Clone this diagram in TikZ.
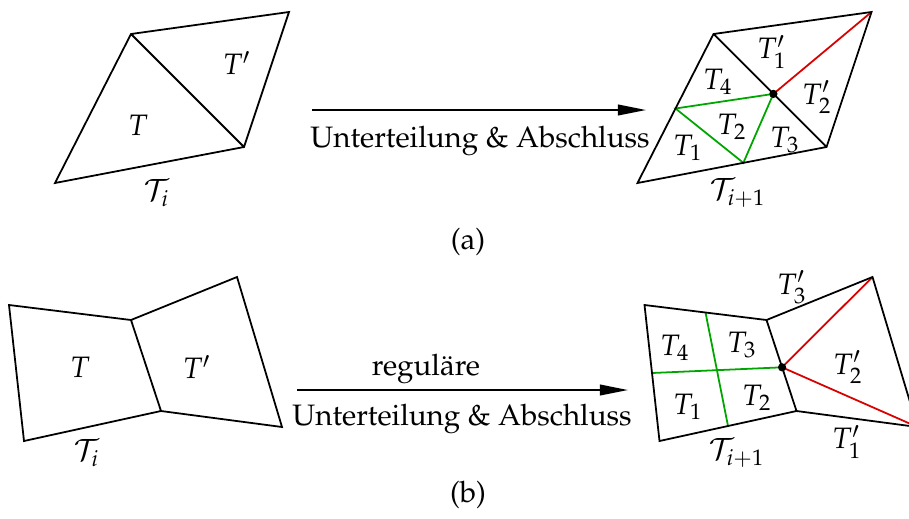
\documentclass[tikz,border=0pt]{standalone}
\usepackage[T1]{fontenc}
\usepackage{mathpazo}
\usetikzlibrary{arrows.meta,calc}

\begin{document}
\begin{tikzpicture}[x=0.0119cm, y=-0.0119cm, line width=0.6pt,
    every node/.style={inner sep=0pt},
    gruen/.style={green!65!black}, rot/.style={red!85!black},
    pfeil/.style={-{Triangle[length=9.5pt,width=3.6pt]}}]
    \useasboundingbox (0,0) rectangle (909,518);
    \clip (0,0) rectangle (909,518);

    % (a) Ausgangsnetz aus zwei Dreiecken und das verfeinerte Netz daneben.
    \coordinate (a1) at (55,183);
    \coordinate (a2) at (131,34);
    \coordinate (a3) at (289,12);
    \coordinate (a4) at (244,147);
    \foreach \n in {1,...,4} {
        \coordinate (b\n) at ($(a\n)+(582.5,0)$);
    }
    \coordinate (bm) at ($(b2)!0.53!(b4)$);
    \coordinate (bl) at ($(b1)!0.5!(b2)$);
    \coordinate (bu) at ($(b1)!0.56!(b4)$);

    \draw (a1) -- (a2) -- (a3) -- (a4) -- cycle (a2) -- (a4);
    \draw[gruen] (bl) -- (bm) -- (bu) -- cycle;
    \draw[rot] (bm) -- (b3);
    \draw (b1) -- (b2) -- (b3) -- (b4) -- cycle (b2) -- (b4);
    \fill (bm) circle (1.4pt);

    \node (aT) at (138,125) {$T$};
    \node (aTs) at (237,63) {$T'$};
    \node (aTi) at (157,193) {$\mathcal{T}_i$};
    \node (bT1s) at (772,52) {$T'_1$};
    \node (bT2s) at (817,97) {$T'_2$};
    \node (bT4) at (718,82) {$T_4$};
    \node (bT2) at (732,127) {$T_2$};
    \node (bT1) at (688,148) {$T_1$};
    \node (bT3) at (785,140) {$T_3$};
    \node (bTi) at (738,193) {$\mathcal{T}_{i+1}$};

    \coordinate (pa1) at (312,110);
    \coordinate (pa2) at (646,110);
    \draw[pfeil] (pa1) -- (pa2);
    \node[anchor=base] (ua) at (480,147) {Unterteilung \& Abschluss};
    \node (la) at (468,242) {(a)};

    % (b) Ausgangsnetz aus zwei Vierecken und das regulaer verfeinerte Netz.
    \coordinate (c1) at (9,305);
    \coordinate (c2) at (131,320);
    \coordinate (c3) at (161,411);
    \coordinate (c4) at (24,441);
    \coordinate (c5) at (237,277);
    \coordinate (c6) at (282,427);
    \foreach \n in {1,...,6} {
        \coordinate (d\n) at ($(c\n)+(635.5,0)$);
    }
    \coordinate (dm) at ($(d2)!0.52!(d3)$);
    \coordinate (dl) at ($(d1)!0.5!(d4)$);
    \coordinate (dt) at ($(d1)!0.5!(d2)$);
    \coordinate (db) at ($(d4)!0.5!(d3)$);

    \draw (c1) -- (c2) -- (c3) -- (c4) -- cycle (c2) -- (c5) -- (c6) -- (c3);
    \draw[gruen] (dl) -- (dm) (dt) -- (db);
    \draw[rot] (d5) -- (dm) -- (d6);
    \draw (d1) -- (d2) -- (d3) -- (d4) -- cycle (d2) -- (d5) -- (d6) -- (d3);
    \fill (dm) circle (1.4pt);

    \node (cT) at (80,367) {$T$};
    \node (cTs) at (197,367) {$T'$};
    \node (cTi) at (87,453) {$\mathcal{T}_i$};
    \node (dT4) at (675,348) {$T_4$};
    \node (dT3) at (742,345) {$T_3$};
    \node (dT1) at (688,407) {$T_1$};
    \node (dT2) at (757,398) {$T_2$};
    \node (dT3s) at (792,287) {$T'_3$};
    \node (dT2s) at (848,367) {$T'_2$};
    \node (dT1s) at (847,442) {$T'_1$};
    \node (dTi) at (737,453) {$\mathcal{T}_{i+1}$};

    \coordinate (pb1) at (297,390);
    \coordinate (pb2) at (628,390);
    \draw[pfeil] (pb1) -- (pb2);
    \node[anchor=base] (ob) at (426,375) {reguläre};
    \node[anchor=base] (ub) at (462,425) {Unterteilung \& Abschluss};
    \node (lb) at (468,495) {(b)};
\end{tikzpicture}
\end{document}
